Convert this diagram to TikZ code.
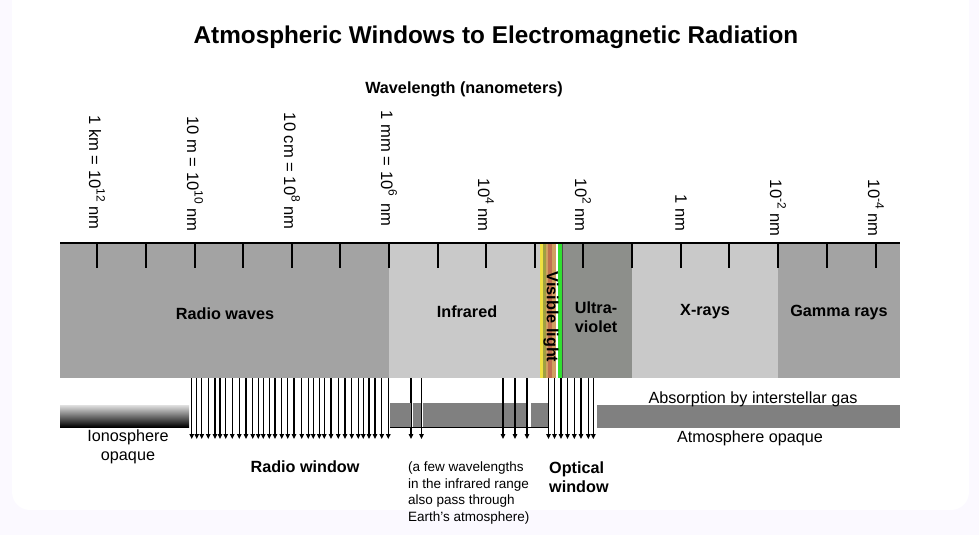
\documentclass[tikz,border=0pt]{standalone}
\usepackage{fontspec}
\setmainfont{Liberation Sans}
\usetikzlibrary{arrows.meta}
\definecolor{lilac}{RGB}{251,249,255}
\definecolor{radiogray}{RGB}{163,163,163}
\definecolor{lightgray}{RGB}{201,201,201}
\definecolor{uvgray}{RGB}{141,143,139}
\definecolor{bargray}{RGB}{128,128,128}
\definecolor{visyellow}{RGB}{240,224,64}
\definecolor{visolive}{RGB}{160,160,64}
\definecolor{vistan}{RGB}{208,160,96}
\definecolor{visbrown}{RGB}{192,112,80}
\definecolor{visgreen}{RGB}{48,224,48}
\tikzset{
  big/.style={font=\fontsize{16.2}{19.5}\selectfont},
  bigb/.style={font=\fontsize{16.2}{19}\selectfont\bfseries},
  smalltext/.style={font=\fontsize{13.5}{16.4}\selectfont},
  axislab/.style={font=\fontsize{16.6}{19}\selectfont, rotate=-90, anchor=east, inner sep=0pt},
  ticklin/.style={line width=2pt},
  ray/.style={line width=1.2pt, -{Triangle[length=5pt,width=4.5pt]}},
}
\newcommand{\supx}[1]{\raisebox{0.45em}{\fontsize{12}{12}\selectfont #1}}
\begin{document}
\begin{tikzpicture}[x=1pt,y=-1pt]
\useasboundingbox (0,0) rectangle (979,535);
% background
\fill[lilac] (0,0) rectangle (979,535);
\fill[white, rounded corners=18pt] (12,-20) rectangle (969,510);

% titles
\node[font=\fontsize{24.3}{28}\selectfont\bfseries] (title) at (496,37) {Atmospheric Windows to Electromagnetic Radiation};
\node[bigb] (wl) at (464,89) {Wavelength (nanometers)};

% wavelength labels
\node[axislab] (l12) at (97,230) {1 km = 10\supx{12} nm};
\node[axislab] (l10) at (195,232) {10 m = 10\supx{10} nm};
\node[axislab] (l8) at (292,230) {10 cm = 10\supx{8} nm};
\node[axislab] (l6) at (389,227) {1 mm = 10\supx{6}\, nm};
\node[axislab] (l4) at (486,232) {10\supx{4} nm};
\node[axislab] (l2) at (583,232) {10\supx{2} nm};
\node[axislab] (l0) at (681,232) {1 nm};
\node[axislab] (lm2) at (778,237) {10\supx{-2} nm};
\node[axislab] (lm4) at (876,237) {10\supx{-4} nm};

% spectrum band
\fill[radiogray] (60,243) rectangle (389,378);
\fill[lightgray] (389,243) rectangle (540,378);
\fill[visyellow] (540,243) rectangle (543,378);
\fill[visolive] (543,243) rectangle (545.5,378);
\fill[vistan] (545.5,243) rectangle (548,378);
\fill[visbrown] (548,243) rectangle (552,378);
\fill[vistan] (552,243) rectangle (555.5,378);
\fill[white] (555.5,243) rectangle (558,378);
\fill[visgreen] (558,243) rectangle (561.5,378);
\fill[uvgray] (561.5,243) rectangle (632,378);
\draw[black!70, line width=0.8pt] (562,243) -- (562,378);
\fill[lightgray] (632,243) rectangle (778,378);
\fill[radiogray] (778,243) rectangle (900,378);
\draw[line width=2.2pt] (60,243) -- (900,243);
\foreach \t in {97,146,195,243,292,340,389,438,486,535,583,632,681,729,778,827,876}
  \draw[ticklin] (\t,243) -- (\t,268);

% band labels
\node[bigb] (radio) at (225,314) {Radio waves};
\node[bigb] (ir) at (467,312) {Infrared};
\node[bigb, rotate=-90] (vis) at (551,317) {Visible light};
\node[bigb, align=center] (uv) at (596,317) {Ultra-\\violet};
\node[bigb] (xr) at (705,312) {X-rays};
\node[bigb] (gr) at (839,313) {Gamma rays};

% ionosphere
\shade[top color=black!12, bottom color=black] (60,405) rectangle (189,427);
\node[big, align=center] (iono) at (128,447) {Ionosphere\\opaque};

% radio window arrows
\foreach \a in {191.7,196.7,201.7,208.3,215,220,225.7,232.3,239.3,246,252.7,258.3,263.3,269.3,275,281.7,287.7,294,301.7,308.3,313.3,319.3,324.3,331,338.3,345,351.7,358.3,363.3,369,375,381.7,388.3}
  \draw[ray] (\a,378) -- (\a,439);
\node[bigb] (rw) at (305,467) {Radio window};

% infrared bar and arrows
\draw[ray] (411,378) -- (411,439);
\draw[ray] (421.5,378) -- (421.5,439);
\fill[bargray] (390,403) rectangle (410.5,427);
\fill[bargray] (413,403) rectangle (420.5,427);
\fill[bargray] (423,403) rectangle (528,427);
\fill[bargray] (531,403) rectangle (548,427);
\draw[line width=0.8pt] (390,427) -- (548,427);
\draw[ray, line width=1.8pt] (503,378) -- (503,439);
\draw[ray] (515,378) -- (515,439);
\draw[ray] (527,378) -- (527,439);
\node[smalltext, align=left, anchor=north west, inner sep=0pt] (note) at (408,462)
  {(a few wavelengths\\in the infrared range\\also pass through\\Earth’s atmosphere)};

% optical window arrows
\foreach \a in {548.5,554.5,561,567.5,574.3,581,588.3,593.3}
  \draw[ray] (\a,378) -- (\a,439);
\node[bigb, align=left, anchor=north west, inner sep=0pt] (ow) at (549,462) {Optical\\window};

% atmosphere opaque
\fill[bargray] (597,405) rectangle (900,428);
\node[big] (abs) at (753,399) {Absorption by interstellar gas};
\node[big] (atm) at (750,438) {Atmosphere opaque};
\end{tikzpicture}
\end{document}
